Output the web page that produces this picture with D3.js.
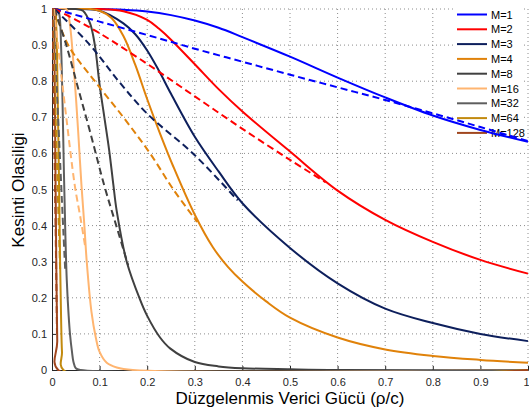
<!DOCTYPE html>
<html>
<head>
<meta charset="utf-8">
<script src="https://cdn.jsdelivr.net/npm/d3@7"></script>
<style>
  body { margin: 0; background: #fff; }
  text { font-family: "Liberation Sans", Arial, sans-serif; }
</style>
</head>
<body>
<svg id="chart" width="529" height="414"></svg>
<script>
// values: [rho/c, outage probability]
var labels = ["M=1", "M=2", "M=3", "M=4", "M=8", "M=16", "M=32", "M=64", "M=128"];
var colors = ["#0000ff", "#ff0000", "#0d1f5c", "#e0820a", "#404040", "#ffb570", "#5e5e5e", "#c28a0e", "#a0461e"];

var solid1 = [[0,1],[0.1,1],[0.15,0.998],[0.2,0.993],[0.25,0.983],[0.3,0.968],[0.35,0.948],[0.4,0.922],[0.5,0.868],[0.6,0.81],[0.7,0.755],[0.8,0.705],[0.9,0.665],[1,0.632]];
var dashed1 = [[0.005,1],[0.1,0.965],[0.2,0.928],[0.3,0.89],[0.4,0.854],[0.5,0.818],[0.6,0.783],[0.7,0.748],[0.8,0.711],[0.9,0.673],[1,0.634]];
var solid2 = [[0,1],[0.1,1],[0.15,0.994],[0.2,0.97],[0.225,0.945],[0.25,0.915],[0.3,0.847],[0.35,0.778],[0.4,0.716],[0.5,0.605],[0.6,0.497],[0.7,0.416],[0.8,0.355],[0.9,0.305],[1,0.267]];
var dashed2 = [[0.005,1],[0.05,0.97],[0.1,0.933],[0.2,0.848],[0.3,0.758],[0.4,0.668],[0.5,0.582],[0.575,0.52]];
var solid3 = [[0,1],[0.05,1],[0.1,0.995],[0.15,0.96],[0.175,0.93],[0.2,0.885],[0.225,0.828],[0.25,0.765],[0.3,0.646],[0.35,0.55],[0.4,0.462],[0.5,0.338],[0.6,0.24],[0.7,0.17],[0.8,0.13],[0.9,0.1],[1,0.08]];
var dashed3 = [[0.005,1],[0.08,0.9],[0.14,0.8],[0.2,0.71],[0.3,0.595],[0.39,0.47]];
var solid4 = [[0,1],[0.08,1],[0.1,0.995],[0.125,0.975],[0.15,0.925],[0.175,0.845],[0.2,0.75],[0.227,0.655],[0.255,0.563],[0.3,0.43],[0.338,0.34],[0.37,0.285],[0.4,0.245],[0.45,0.19],[0.5,0.145],[0.6,0.09],[0.7,0.057],[0.8,0.039],[0.9,0.028],[1,0.02]];
var dashed4 = [[0.005,1],[0.034,0.9],[0.09,0.8],[0.15,0.7],[0.206,0.6],[0.255,0.5],[0.305,0.41]];
var solid8 = [[0,1],[0.05,1],[0.065,0.995],[0.08,0.96],[0.09,0.9],[0.1,0.79],[0.11,0.7],[0.12,0.61],[0.129,0.512],[0.136,0.44],[0.157,0.3],[0.185,0.195],[0.2,0.15],[0.227,0.09],[0.248,0.06],[0.3,0.022],[0.35,0.01],[0.4,0.005],[0.5,0.002],[0.6,0],[1,0]];
var dashed8 = [[0.005,1],[0.03,0.9],[0.055,0.78],[0.08,0.66],[0.11,0.51],[0.135,0.4],[0.16,0.29]];
var solid16 = [[0,1],[0.03,1],[0.035,0.98],[0.04,0.93],[0.045,0.85],[0.05,0.76],[0.055,0.66],[0.062,0.51],[0.068,0.4],[0.073,0.3],[0.083,0.16],[0.092,0.09],[0.1,0.05],[0.115,0.02],[0.136,0.007],[0.17,0],[1,0]];
var dashed16 = [[0.004,1],[0.015,0.87],[0.03,0.7],[0.048,0.51],[0.06,0.42],[0.07,0.34]];
var solid32 = [[0,1],[0.012,1],[0.016,0.98],[0.019,0.9],[0.022,0.75],[0.025,0.55],[0.028,0.38],[0.031,0.25],[0.035,0.15],[0.038,0.097],[0.042,0.05],[0.045,0.023],[0.05,0.005],[0.06,0],[1,0]];
var dashed32 = [[0.002,1],[0.01,0.78],[0.018,0.55],[0.024,0.38],[0.028,0.27]];
var solid64 = [[0,1],[0.006,1],[0.009,0.95],[0.012,0.75],[0.015,0.5],[0.017,0.3],[0.019,0.15],[0.021,0.05],[0.024,0],[1,0]];
var dashed64 = [[0.001,1],[0.006,0.78],[0.012,0.5],[0.017,0.28]];
var solid128 = [[0,1],[0.003,1],[0.005,0.9],[0.007,0.6],[0.009,0.3],[0.011,0.08],[0.013,0],[1,0]];
var dashed128 = [[0.0005,1],[0.004,0.7],[0.008,0.35],[0.0105,0.1]];

var xTicks = [0,0.1,0.2,0.3,0.4,0.5,0.6,0.7,0.8,0.9,1];
var yTicks = [0,0.1,0.2,0.3,0.4,0.5,0.6,0.7,0.8,0.9,1];

var solids = [solid1, solid2, solid3, solid4, solid8, solid16, solid32, solid64, solid128];
var dashes = [dashed1, dashed2, dashed3, dashed4, dashed8, dashed16, dashed32, dashed64, dashed128];

var svg = d3.select("#chart"),
    margin = {top: 9, right: 1, bottom: 44, left: 52},
    width = +svg.attr("width") - margin.left - margin.right,
    height = +svg.attr("height") - margin.top - margin.bottom,
    g = svg.append("g").attr("transform", "translate(" + margin.left + "," + margin.top + ")");

var x = d3.scaleLinear().domain([0, 1]).range([0, width]),
    y = d3.scaleLinear().domain([0, 1]).range([height, 0]);

svg.append("defs").append("clipPath").attr("id", "clip")
    .append("rect").attr("x", 0).attr("y", -1).attr("width", width + 2).attr("height", height + 2);

// dotted grid
g.append("g").selectAll("line").data(xTicks.slice(1)).enter().append("line")
    .attr("x1", function(d) { return x(d); }).attr("x2", function(d) { return x(d); })
    .attr("y1", 0).attr("y2", height)
    .attr("stroke", "#8c8c8c").attr("stroke-width", 1).attr("stroke-dasharray", "1,3");
g.append("g").selectAll("line").data(yTicks.slice(1)).enter().append("line")
    .attr("x1", 0).attr("x2", width)
    .attr("y1", function(d) { return y(d); }).attr("y2", function(d) { return y(d); })
    .attr("stroke", "#8c8c8c").attr("stroke-width", 1).attr("stroke-dasharray", "1,3");

// axes, matlab style (ticks inside)
var xAxis = g.append("g").attr("transform", "translate(0," + height + ")")
    .call(d3.axisBottom(x).tickValues(xTicks).tickSize(-4).tickPadding(8).tickFormat(d3.format("~g")));
var yAxis = g.append("g")
    .call(d3.axisLeft(y).tickValues(yTicks).tickSize(-4).tickPadding(5).tickFormat(d3.format("~g")));
[xAxis, yAxis].forEach(function(a) {
    a.select(".domain").attr("stroke", "#262626");
    a.selectAll(".tick line").attr("stroke", "#262626");
    a.selectAll(".tick text").attr("fill", "#262626").style("font-size", "11px")
        .style("font-family", "'Liberation Sans', Arial, sans-serif");
});
// last x label sits at the window edge, keep it inside
xAxis.selectAll(".tick text").filter(function(d) { return d === 1; })
    .attr("text-anchor", "end").attr("dx", "1px");

// legend background sits under the curves
var lg = g.append("g").attr("transform", "translate(" + (453 - margin.left) + "," + (5 - margin.top) + ")");
lg.append("rect").attr("width", 68).attr("height", 122).attr("fill", "#fff");

var line = d3.line()
    .curve(d3.curveCatmullRom.alpha(0.5))
    .x(function(d) { return x(d[0]); })
    .y(function(d) { return y(d[1]); });

var plot = g.append("g").attr("clip-path", "url(#clip)");
solids.forEach(function(s, i) {
    plot.append("path").datum(s).attr("d", line)
        .attr("fill", "none").attr("stroke", colors[i]).attr("stroke-width", 2);
});
dashes.forEach(function(s, i) {
    plot.append("path").datum(s).attr("d", line)
        .attr("fill", "none").attr("stroke", colors[i]).attr("stroke-width", 2)
        .attr("stroke-dasharray", "7,4");
});

var item = lg.selectAll(".item").data(labels).enter().append("g")
    .attr("transform", function(d, i) { return "translate(0," + (9.5 + i * 14.8) + ")"; });
item.append("line").attr("x1", 4).attr("x2", 34).attr("y1", 0).attr("y2", 0)
    .attr("stroke", function(d, i) { return colors[i]; }).attr("stroke-width", 2);
item.append("text").attr("x", 38).attr("y", 4).style("font-size", "11px").attr("fill", "#000")
    .text(function(d) { return d; });

// titles
svg.append("text").attr("x", 290).attr("y", 404).attr("text-anchor", "middle")
    .style("font-size", "17px").attr("fill", "#000").text("Düzgelenmis Verici Gücü (ρ/c)");
svg.append("text").attr("transform", "translate(24," + 190 + ") rotate(-90)").attr("text-anchor", "middle")
    .style("font-size", "17px").attr("fill", "#000").text("Kesinti Olasiligi");
</script>
</body>
</html>
